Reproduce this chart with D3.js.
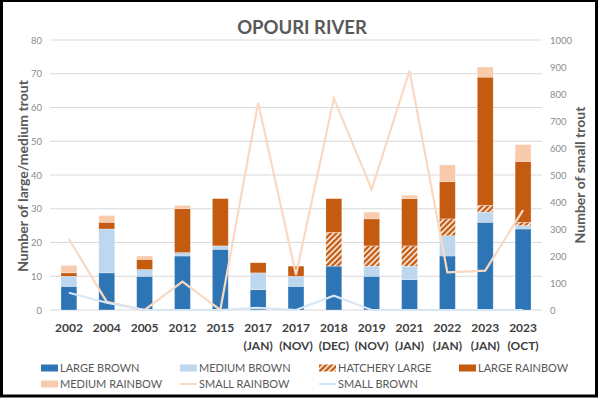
<!DOCTYPE html>
<html>
<head>
<meta charset="utf-8">
<script src="https://cdn.jsdelivr.net/npm/d3@7"></script>
<style>
  html, body { margin: 0; padding: 0; background: #fff; }
  svg { display: block; font-family: Lato, "Open Sans", sans-serif; }
</style>
</head>
<body>
<div id="chart"></div>
<script>
// survey dates (two label lines)
var yearLabels = ["2002","2004","2005","2012","2015","2017","2017","2018","2019","2021","2022","2023","2023"];
var monthLabels = ["","","","","","(JAN)","(NOV)","(DEC)","(NOV)","(JAN)","(JAN)","(JAN)","(OCT)"];

// stacked counts, left axis
var largeBrown    = [7, 11, 10, 16, 18, 6, 7, 13, 10, 9, 16, 26, 24];
var mediumBrown   = [3, 13, 2, 1, 1, 5, 3, 0, 3, 4, 6, 3, 1];
var hatcheryLarge = [0, 0, 0, 0, 0, 0, 0, 10, 6, 6, 5, 2, 1];
var largeRainbow  = [1, 2, 3, 13, 14, 3, 3, 10, 8, 14, 11, 38, 18];
var mediumRainbow = [2.2, 2, 1, 1, 0, 0, 0, 0, 2, 1, 5, 3, 5];

// lines, right axis
var smallRainbow = [263, 30, 0, 105, 0, 768, 130, 784, 447, 886, 139, 146, 370];
var smallBrown   = [64, 27, 0, 0, 0, 8, 0, 53, 0, 0, 0, 0, 0];

var leftTicks = [0,10,20,30,40,50,60,70,80];
var rightTicks = [0,100,200,300,400,500,600,700,800,900,1000];

var W = 600, H = 399;
var m = {left: 50, right: 58, top: 40, bottom: 89};

var svg = d3.select("#chart").append("svg")
    .attr("width", W)
    .attr("height", H);

var defs = svg.append("defs");
var pat = defs.append("pattern")
    .attr("id", "hatch")
    .attr("patternUnits", "userSpaceOnUse")
    .attr("width", 4)
    .attr("height", 4)
    .attr("patternTransform", "rotate(45)");
pat.append("rect").attr("width", 4).attr("height", 4).attr("fill", "#C55A11");
pat.append("rect").attr("x", 0).attr("width", 1.5).attr("height", 4).attr("fill", "#fff");

var x = d3.scaleBand()
    .domain(d3.range(yearLabels.length))
    .range([m.left, W - m.right])
    .paddingInner(0.58)
    .paddingOuter(0.29);

var yL = d3.scaleLinear().domain([0, 80]).range([H - m.bottom, m.top]);
var yR = d3.scaleLinear().domain([0, 1000]).range([H - m.bottom, m.top]);

// gridlines
svg.append("g").selectAll("line")
    .data(leftTicks)
    .enter().append("line")
    .attr("x1", m.left).attr("x2", W - m.right)
    .attr("y1", function(d) { return yL(d); })
    .attr("y2", function(d) { return yL(d); })
    .attr("stroke", "#d9d9d9")
    .attr("stroke-width", 1);

// left axis
var axL = svg.append("g")
    .attr("transform", "translate(" + (m.left - 8) + ",0)")
    .call(d3.axisLeft(yL).tickValues(leftTicks).tickSize(0).tickPadding(0));
axL.select(".domain").remove();
axL.selectAll("text")
    .attr("fill", "#8c8c8c")
    .style("font-size", "9.5px")
    .style("font-family", "Lato, sans-serif");

// right axis
var axR = svg.append("g")
    .attr("transform", "translate(" + (W - m.right + 8) + ",0)")
    .call(d3.axisRight(yR).tickValues(rightTicks).tickFormat(d3.format("d")).tickSize(0).tickPadding(0));
axR.select(".domain").remove();
axR.selectAll("text")
    .attr("fill", "#8c8c8c")
    .style("font-size", "9.5px")
    .style("font-family", "Lato, sans-serif");

// stacked bars
var series = [
  {name: "LARGE BROWN", vals: largeBrown, fill: "#2E75B6"},
  {name: "MEDIUM BROWN", vals: mediumBrown, fill: "#BDD7EE"},
  {name: "HATCHERY LARGE", vals: hatcheryLarge, fill: "url(#hatch)"},
  {name: "LARGE RAINBOW", vals: largeRainbow, fill: "#C55A11"},
  {name: "MEDIUM RAINBOW", vals: mediumRainbow, fill: "#F8CBAD"}
];
var rows = yearLabels.map(function(d, i) {
  var r = {i: i};
  series.forEach(function(s) { r[s.name] = s.vals[i]; });
  return r;
});
var stacked = d3.stack().keys(series.map(function(s) { return s.name; }))(rows);

var barG = svg.append("g");
stacked.forEach(function(layer, k) {
  barG.append("g").selectAll("rect")
    .data(layer.filter(function(d) { return d[1] - d[0] > 0; }))
    .enter().append("rect")
    .attr("x", function(d) { return x(d.data.i); })
    .attr("width", x.bandwidth())
    .attr("y", function(d) { return yL(d[1]); })
    .attr("height", function(d) { return yL(d[0]) - yL(d[1]); })
    .attr("fill", series[k].fill)
    .attr("stroke", "#fff")
    .attr("stroke-opacity", 0.45)
    .attr("stroke-width", 0.6);
});

// lines
var cx = function(d, i) { return x(i) + x.bandwidth() / 2; };
var lineR = d3.line().x(cx).y(function(d) { return yR(d); });

svg.append("path")
    .datum(smallRainbow)
    .attr("d", lineR)
    .attr("fill", "none")
    .attr("stroke", "#FAD9C3")
    .attr("stroke-width", 2.2)
    .attr("stroke-linejoin", "miter");

svg.append("path")
    .datum(smallBrown)
    .attr("d", lineR)
    .attr("fill", "none")
    .attr("stroke", "#D6E6F5")
    .attr("stroke-width", 2.2);

// x labels
var xl = svg.append("g")
    .style("font-size", "12px")
    .style("font-weight", "bold")
    .attr("fill", "#404040")
    .attr("text-anchor", "middle");
xl.selectAll(".yr").data(yearLabels).enter().append("text")
    .attr("x", function(d, i) { return x(i) + x.bandwidth() / 2; })
    .attr("y", 332)
    .text(function(d) { return d; });
xl.selectAll(".mo").data(monthLabels).enter().append("text")
    .attr("x", function(d, i) { return x(i) + x.bandwidth() / 2; })
    .attr("y", 350)
    .text(function(d) { return d; });

// title
svg.append("text")
    .attr("x", 302)
    .attr("y", 34)
    .attr("text-anchor", "middle")
    .attr("fill", "#595959")
    .style("font-size", "18.5px")
    .style("font-weight", "bold")
    .text("OPOURI RIVER");

// axis titles
svg.append("text")
    .attr("transform", "translate(28,176) rotate(-90)")
    .attr("text-anchor", "middle")
    .attr("fill", "#595959")
    .style("font-size", "14px")
    .style("font-weight", "bold")
    .text("Number of large/medium trout");

svg.append("text")
    .attr("transform", "translate(585,175) rotate(-90)")
    .attr("text-anchor", "middle")
    .attr("fill", "#595959")
    .style("font-size", "14px")
    .style("font-weight", "bold")
    .text("Number of small trout");

// legend
var legendItems = [
  {name: "LARGE BROWN", type: "box", fill: "#2E75B6"},
  {name: "MEDIUM BROWN", type: "box", fill: "#BDD7EE"},
  {name: "HATCHERY LARGE", type: "box", fill: "url(#hatch)"},
  {name: "LARGE RAINBOW", type: "box", fill: "#C55A11"},
  {name: "MEDIUM RAINBOW", type: "box", fill: "#F8CBAD"},
  {name: "SMALL RAINBOW", type: "line", fill: "#FAD9C3"},
  {name: "SMALL BROWN", type: "line", fill: "#D6E6F5"}
];
var legX = [41, 180, 319, 459];
var legY = [368, 384];
var leg = svg.append("g").selectAll("g")
    .data(legendItems)
    .enter().append("g")
    .attr("transform", function(d, i) { return "translate(" + legX[i % 4] + "," + legY[Math.floor(i / 4)] + ")"; });
leg.each(function(d) {
  var g = d3.select(this);
  if (d.type == "box") {
    g.append("rect").attr("x", 0).attr("y", -3.5).attr("width", 17).attr("height", 7).attr("fill", d.fill);
  } else {
    g.append("line").attr("x1", 0).attr("x2", 17).attr("y1", 0).attr("y2", 0)
      .attr("stroke", d.fill).attr("stroke-width", 2);
  }
  g.append("text")
    .attr("x", 19)
    .attr("y", 4)
    .attr("fill", "#595959")
    .style("font-size", "11px")
    .text(d.name);
});

// outer frame
svg.append("rect")
    .attr("x", 1.5).attr("y", 0.5)
    .attr("width", 595).attr("height", 395.5)
    .attr("fill", "none")
    .attr("stroke", "#000")
    .attr("stroke-width", 3);
</script>
</body>
</html>
